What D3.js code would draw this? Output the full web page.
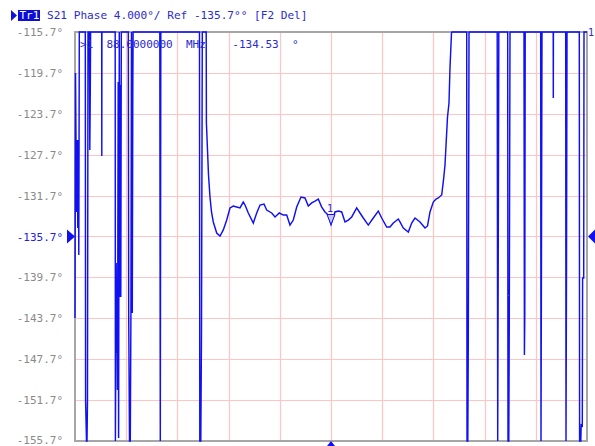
<!DOCTYPE html>
<html><head><meta charset="utf-8">
<script src="https://cdn.jsdelivr.net/npm/d3@7"></script>
<style>
html,body{margin:0;padding:0;background:#fff;}
svg{display:block;}
text{font-family:"DejaVu Sans Mono",monospace;}
</style></head>
<body>
<script>
// ---- data ----
const yTickValues = [-115.7,-119.7,-123.7,-127.7,-131.7,-135.7,-139.7,-143.7,-147.7,-151.7,-155.7];
const yTickLabels = ["-115.7°","-119.7°","-123.7°","-127.7°","-131.7°","-135.7°","-139.7°","-143.7°","-147.7°","-151.7°","-155.7°"];
const freqStartMHz = 78, freqStopMHz = 98, freqDivs = 10;
const refLevel = -135.7;
const markerFreq = [88.0];
const markerPhase = [-134.53];
// S21 phase trace (MHz, degrees); values outside the display range are clipped to the graticule edge
const freqMHz = [
78.000,78.020,78.059,78.086,78.109,78.129,78.148,78.168,
78.402,78.414,78.449,78.469,78.488,78.508,
78.559,78.578,78.598,78.609,
79.043,79.047,79.051,
79.570,79.578,79.609,79.625,79.648,79.660,79.688,79.703,79.730,79.750,79.770,79.789,79.809,
80.082,80.098,80.129,80.160,80.184,80.207,80.238,80.258,80.270,
81.313,81.332,81.352,
82.863,82.875,82.914,82.941,82.973,83.125,
83.133,83.176,83.215,83.273,83.332,83.402,83.535,83.664,83.793,83.926,
84.055,84.184,84.316,84.445,84.574,84.641,84.770,84.965,85.098,85.227,
85.383,85.488,85.684,85.813,85.980,86.137,86.270,86.398,86.527,86.660,
86.828,86.984,87.113,87.246,87.375,87.504,87.637,87.766,87.895,88.000,
88.156,88.285,88.418,88.547,88.676,88.809,89.004,89.133,89.262,89.457,
89.652,89.848,89.980,90.176,90.305,90.434,90.629,90.695,90.824,91.020,
91.152,91.281,91.477,91.672,91.770,91.867,91.996,92.102,92.191,92.324,
92.395,92.453,92.504,92.551,92.609,92.648,92.707,92.727,
93.301,93.313,93.344,93.363,93.391,
94.492,94.512,94.535,94.555,
94.902,94.914,94.945,94.965,94.992,
95.539,95.555,95.570,95.586,
96.191,96.203,96.223,96.242,
96.680,96.684,96.688,
97.168,97.180,97.199,97.219,
97.699,97.711,97.758,97.773,97.816,97.828,97.871,97.883,98.000
];
const phaseDeg = [
-143.67,-119.71,-133.30,-126.26,-134.87,-126.26,-137.51,-104.2,
-103.8,-151.79,-166.4,-167.1,-151.79,-104.6,
-105.1,-127.24,-121.18,-104.9,
-103.5,-127.83,-103.9,
-102.7,-166.8,-138.29,-147.09,-141.91,-150.71,-120.59,-155.41,-103.3,-141.62,-120.88,-141.62,-104.1,
-102.9,-143.38,-167.5,-166.9,-143.38,-103.6,-143.18,-121.18,-104.4,
-103.1,-168.2,-102.8,
-104.7,-166.3,-167.0,-145.14,-103.9,-104.5,
-124.60,-127.24,-129.69,-131.84,-133.30,-134.28,-135.36,-135.65,-135.06,-134.09,
-132.91,-132.72,-132.82,-132.91,-132.33,-132.62,-133.40,-134.38,-133.40,-132.62,
-132.52,-133.11,-133.40,-133.79,-133.40,-133.60,-133.60,-134.58,-134.09,-132.82,
-131.84,-131.93,-132.72,-132.42,-132.23,-132.03,-132.82,-133.30,-133.60,-134.53,
-133.30,-133.21,-133.30,-134.28,-134.09,-133.79,-132.91,-133.40,-133.89,-134.58,
-133.89,-133.21,-133.89,-134.77,-134.77,-134.38,-133.99,-134.28,-134.87,-135.26,
-134.38,-133.89,-134.28,-134.87,-134.67,-133.30,-132.33,-132.03,-131.93,-131.64,
-130.17,-128.71,-126.26,-124.01,-122.64,-119.22,-115.80,-104.0,
-103.2,-167.3,-166.6,-146.02,-104.3,
-103.7,-166.1,-135.75,-104.8,
-103.4,-167.6,-166.2,-143.18,-104.6,
-103.0,-147.29,-143.38,-104.2,
-103.9,-166.9,-135.75,-103.6,
-104.5,-122.15,-104.1,
-103.3,-167.2,-138.98,-104.7,
-103.8,-166.5,-167.4,-154.14,-154.23,-139.76,-139.76,-104.0,-103.5
];

// ---- drawing ----
const W = 595, H = 446;
const plot = {left:75, right:587, top:32, bottom:441};
const svg = d3.select("body").append("svg").attr("width",W).attr("height",H);

const x = d3.scaleLinear().domain([freqStartMHz,freqStopMHz]).range([plot.left,plot.right]);
const y = d3.scaleLinear().domain([yTickValues[0], yTickValues[yTickValues.length-1]]).range([plot.top,plot.bottom]).clamp(true);

const blue = "#1010f4";
const textBlue = "#2a2ad2";

// grid
const xGrid = d3.range(freqDivs+1).map(i => freqStartMHz + i*(freqStopMHz-freqStartMHz)/freqDivs);
svg.append("g").selectAll("line").data(xGrid.slice(1,-1)).join("line")
  .attr("x1",d=>Math.round(x(d))+0.5).attr("x2",d=>Math.round(x(d))+0.5)
  .attr("y1",plot.top).attr("y2",plot.bottom)
  .attr("stroke","#ffc4c4").attr("stroke-width",1.2);
svg.append("g").selectAll("line").data(yTickValues.slice(1,-1)).join("line")
  .attr("x1",plot.left).attr("x2",plot.right)
  .attr("y1",d=>Math.round(y(d))+0.5).attr("y2",d=>Math.round(y(d))+0.5)
  .attr("stroke","#ffc4c4").attr("stroke-width",1.2);

// frame
svg.append("rect").attr("x",plot.left).attr("y",plot.top)
  .attr("width",plot.right-plot.left).attr("height",plot.bottom-plot.top)
  .attr("fill","none").attr("stroke","#a6a6a6").attr("stroke-width",2);

// y labels
svg.append("g").selectAll("text").data(yTickValues).join("text")
  .attr("x",63).attr("y",(d,i)=> i===yTickValues.length-1 ? y(d)+3 : y(d)+4)
  .attr("text-anchor","end").attr("font-size",11)
  .attr("fill",d=>d===refLevel? "#2020e8":"#8a8a8a")
  .text((d,i)=>yTickLabels[i]);

// trace
const pts = freqMHz.map((f,i)=>[f,phaseDeg[i]]);
const line = d3.line().x(d=>x(d[0])).y(d=>y(d[1]));
svg.append("path").datum(pts).attr("d",line)
  .attr("fill","none").attr("stroke",blue).attr("stroke-width",1.45).attr("stroke-linejoin","miter");

// reference level arrows
const yr = y(refLevel);
svg.append("path").attr("d",`M67,${yr-7}L75,${yr}L67,${yr+7}Z`).attr("fill","#1010f0");
svg.append("path").attr("d",`M595,${yr-7}L588,${yr}L595,${yr+7}Z`).attr("fill","#1010f0");

// marker 1
const mx = x(markerFreq[0]), my = y(markerPhase[0]);
svg.append("path").attr("d",`M${mx-4},${my-10}L${mx+4},${my-10}L${mx},${my}Z`)
  .attr("fill","#c8c8ff").attr("stroke",blue).attr("stroke-width",1);
svg.append("text").attr("x",mx-1).attr("y",my-13).attr("text-anchor","middle")
  .attr("font-size",10).attr("fill",textBlue).text("1");
// stimulus marker at bottom
svg.append("path").attr("d",`M${mx-4},${H}L${mx},${plot.bottom}L${mx+4},${H}Z`).attr("fill","#1010f0");
// channel marker label top right
svg.append("text").attr("x",588).attr("y",36).attr("font-size",10).attr("fill",textBlue).text("1");

// marker readout
svg.append("text").attr("x",80).attr("y",48).attr("font-size",11).attr("fill",textBlue)
  .style("white-space","pre")
  .text(">1  88.0000000  MHz    -134.53  °");

// header
svg.append("path").attr("d","M11,10L17,15.5L11,21Z").attr("fill","#1010e0");
svg.append("rect").attr("x",18).attr("y",10).attr("width",22).attr("height",11).attr("fill","#0c0cd8");
svg.append("text").attr("x",19.5).attr("y",19).attr("font-size",11).attr("fill","#fff").text("Tr1");
svg.append("text").attr("x",47).attr("y",19).attr("font-size",11.1).attr("fill",textBlue)
  .style("white-space","pre").text("S21 Phase 4.000°/ Ref -135.7°° [F2 Del]");
</script>
</body></html>
